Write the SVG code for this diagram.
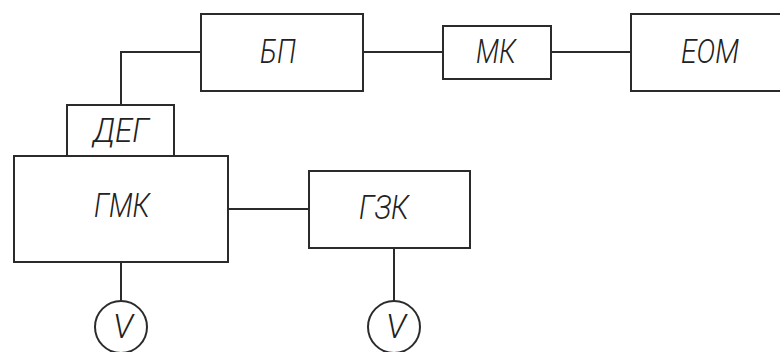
<svg xmlns="http://www.w3.org/2000/svg" width="780" height="352" viewBox="0 0 780 352">
<style>
.box{fill:#fff;stroke:#2b2b2b;stroke-width:2}
.wire{fill:none;stroke:#2b2b2b;stroke-width:2}
.lbl{font-family:"Roboto","Liberation Sans","DejaVu Sans",sans-serif;font-style:italic;font-weight:300;font-size:34px;fill:#222;text-anchor:middle}
</style>
<rect width="780" height="352" fill="#fff"/>
<g id="connectors">
<polyline class="wire" points="201,52 121,52 121,105"/>
<line class="wire" x1="363" y1="52" x2="443" y2="52"/>
<line class="wire" x1="551" y1="52" x2="631" y2="52"/>
<line class="wire" x1="228" y1="209" x2="309" y2="209"/>
<line class="wire" x1="121" y1="262" x2="121" y2="301"/>
<line class="wire" x1="394" y1="248" x2="394" y2="301"/>
</g>
<g id="BP"><rect class="box" x="201" y="14" width="162" height="77"/><text class="lbl" x="278" y="63" textLength="36" lengthAdjust="spacingAndGlyphs">БП</text></g>
<g id="MK"><rect class="box" x="443" y="26" width="108" height="53"/><text class="lbl" x="496" y="63" textLength="40" lengthAdjust="spacingAndGlyphs">МК</text></g>
<g id="EOM"><rect class="box" x="631" y="14" width="160" height="77"/><text class="lbl" x="710" y="63" textLength="58" lengthAdjust="spacingAndGlyphs">ЕОМ</text></g>
<g id="DEG"><rect class="box" x="67" y="105" width="107" height="51"/><text class="lbl" x="121" y="142" textLength="56" lengthAdjust="spacingAndGlyphs">ДЕГ</text></g>
<g id="GMK"><rect class="box" x="14" y="156" width="214" height="106"/><text class="lbl" x="122" y="217" textLength="56" lengthAdjust="spacingAndGlyphs">ГМК</text></g>
<g id="GZK"><rect class="box" x="309" y="171" width="161" height="77"/><text class="lbl" x="384" y="219" textLength="50" lengthAdjust="spacingAndGlyphs">ГЗК</text></g>
<g id="V1"><circle class="box" cx="121" cy="327" r="26"/><text class="lbl" x="123" y="338" textLength="20" lengthAdjust="spacingAndGlyphs">V</text></g>
<g id="V2"><circle class="box" cx="394" cy="327" r="26"/><text class="lbl" x="396" y="338" textLength="20" lengthAdjust="spacingAndGlyphs">V</text></g>
</svg>
